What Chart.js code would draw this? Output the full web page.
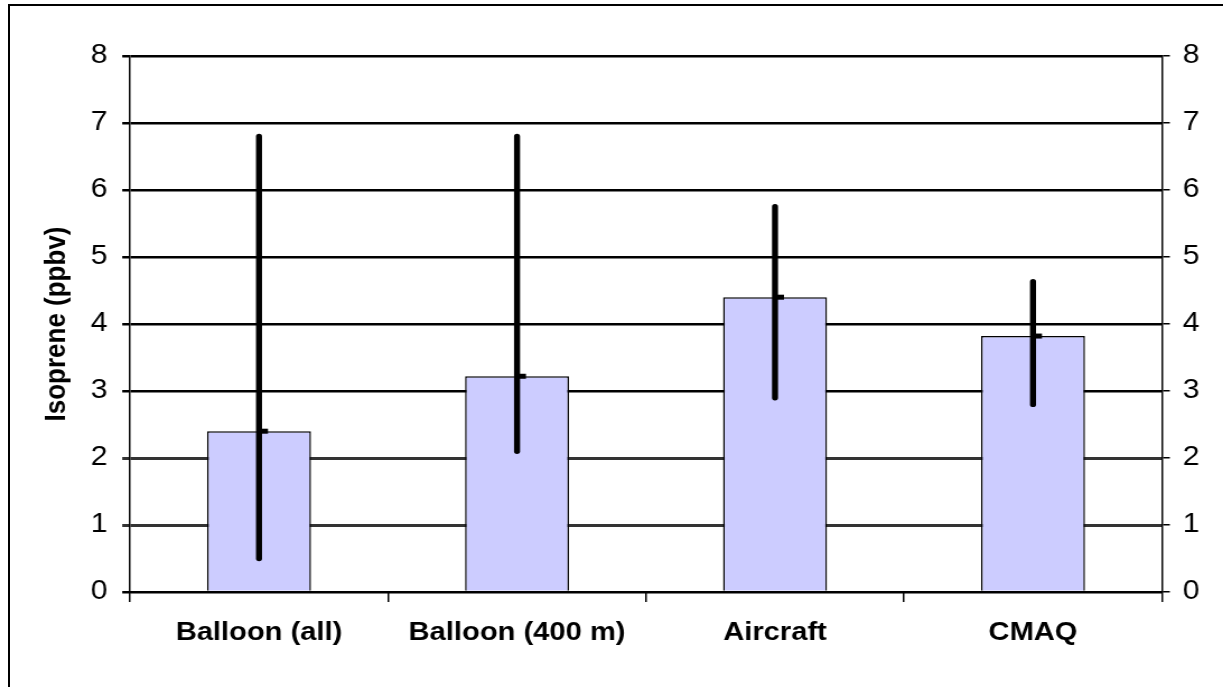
<!DOCTYPE html>
<html>
<head>
<meta charset="utf-8">
<script src="https://cdn.jsdelivr.net/npm/chart.js@4/dist/chart.umd.min.js"></script>
<style>
  html, body { margin: 0; padding: 0; background: #fff; overflow: hidden; }
  body { width: 1223px; height: 687px; position: relative; }
  .frame { position: absolute; left: 8px; top: 4px; width: 1300px; height: 800px; border: 2px solid #000; }
  .wrap { position: absolute; left: 0; top: 0; width: 1092px; height: 687px; transform: scaleX(1.12); transform-origin: 0 0; }
</style>
</head>
<body>
<div class="frame"></div>
<div class="wrap"><canvas id="chart"></canvas></div>
<script>
const categories = ['Balloon (all)', 'Balloon (400 m)', 'Aircraft', 'CMAQ'];
const means = [2.4, 3.22, 4.4, 3.82];
const errLow = [0.5, 2.1, 2.9, 2.8];
const errHigh = [6.8, 6.8, 5.75, 4.63];
const yTicks = [0, 1, 2, 3, 4, 5, 6, 7, 8];

const FONT = "'Liberation Sans', Arial, sans-serif";

// vertical range bars with a small mark at the mean
const errorBars = {
  id: 'errorBars',
  afterDatasetsDraw(chart) {
    const ctx = chart.ctx;
    const y = chart.scales.y;
    const meta = chart.getDatasetMeta(0);
    ctx.save();
    meta.data.forEach((bar, i) => {
      const x = bar.x;
      ctx.strokeStyle = '#000';
      ctx.lineWidth = 5.4;
      ctx.lineCap = 'round';
      ctx.beginPath();
      ctx.moveTo(x, y.getPixelForValue(errLow[i]));
      ctx.lineTo(x, y.getPixelForValue(errHigh[i]));
      ctx.stroke();
      ctx.fillStyle = '#000';
      ctx.fillRect(x, y.getPixelForValue(means[i]) - 2.5, 8, 5);
    });
    ctx.restore();
  },
};

const gridColor = (c) => (c.tick && (c.tick.value === 1 || c.tick.value === 2) ? '#333' : '#000');
const gridWidth = (c) => (c.tick && (c.tick.value === 1 || c.tick.value === 2) ? 3 : 2.5);

const ctx = document.getElementById('chart').getContext('2d');
new Chart(ctx, {
  type: 'bar',
  data: {
    labels: categories,
    datasets: [{
      data: means,
      backgroundColor: '#CCCCFF',
      borderColor: '#000',
      borderWidth: 1.5,
      barPercentage: 0.403,
      categoryPercentage: 1,
    }],
  },
  options: {
    responsive: true,
    maintainAspectRatio: false,
    animation: false,
    layout: { padding: { top: 56, left: 0, right: 0, bottom: 0 } },
    plugins: { legend: { display: false }, tooltip: { enabled: false } },
    scales: {
      x: {
        grid: { display: true, drawOnChartArea: false, offset: true, color: '#000', lineWidth: 1.5, tickLength: 10 },
        border: { color: '#000', width: 2 },
        ticks: { color: '#000', padding: 15, maxRotation: 0, font: { family: FONT, size: 26, weight: 'bold' } },
        afterFit: (s) => { s.width = s.width; s.height = 95; },
      },
      y: {
        position: 'left',
        min: 0,
        max: 8,
        afterBuildTicks: (s) => { s.ticks = yTicks.map((v) => ({ value: v })); },
        grid: { color: gridColor, lineWidth: gridWidth, tickLength: 7 },
        border: { color: '#000', width: 1.5 },
        ticks: { color: '#000', padding: 13, font: { family: FONT, size: 27 } },
        title: {
          display: true,
          text: 'Isoprene (ppbv)',
          color: '#000',
          padding: 35,
          font: { family: FONT, size: 26, weight: 'bold' },
        },
        afterFit: (s) => { s.width = 116.1; },
      },
      y2: {
        position: 'right',
        min: 0,
        max: 8,
        afterBuildTicks: (s) => { s.ticks = yTicks.map((v) => ({ value: v })); },
        grid: { drawOnChartArea: false, color: '#000', lineWidth: 1.5, tickLength: 7 },
        border: { color: '#000', width: 1.5 },
        ticks: { color: '#000', padding: 11.6, font: { family: FONT, size: 27 } },
        afterFit: (s) => { s.width = 54.5; },
      },
    },
  },
  plugins: [errorBars],
});
</script>
</body>
</html>
